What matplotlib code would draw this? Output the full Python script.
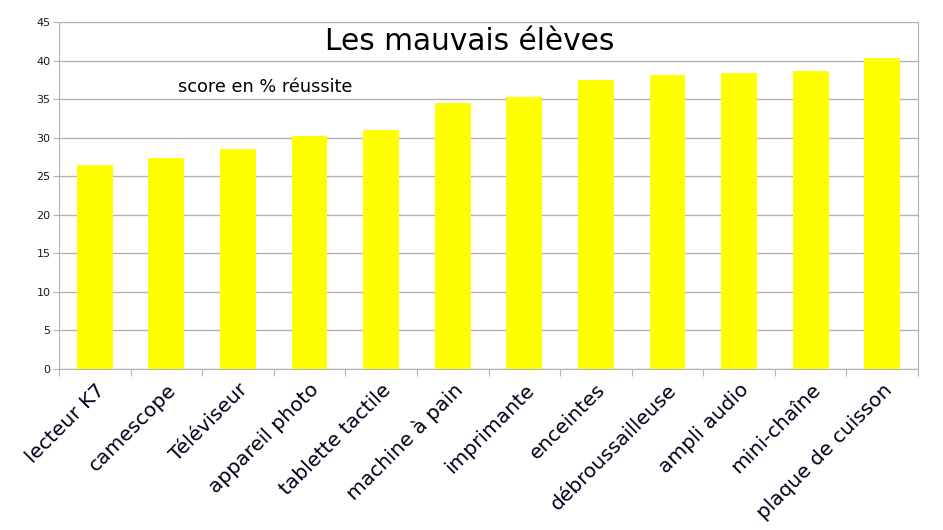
import matplotlib
matplotlib.use("Agg")
import matplotlib.pyplot as plt
import numpy as np

categories = ["lecteur K7", "camescope", "Téléviseur", "appareil photo",
              "tablette tactile", "machine à pain", "imprimante", "enceintes",
              "débroussailleuse", "ampli audio", "mini-chaîne", "plaque de cuisson"]
scores = [26.4, 27.3, 28.5, 30.2, 31.0, 34.5, 35.3, 37.5, 38.1, 38.4, 38.7, 40.3]
y_ticks = [0, 5, 10, 15, 20, 25, 30, 35, 40, 45]

grid_col = "#b3b3b3"

fig = plt.figure(figsize=(9.43, 5.30), dpi=100)
ax = fig.add_axes([59/943, 1 - 369/530, (918-59)/943, (369-22)/530])

x = np.arange(len(categories))
ax.bar(x, scores, width=0.5, color="#ffff00", zorder=2)

ax.set_xlim(-0.5, len(categories) - 0.5)
ax.set_ylim(0, 45)
ax.set_yticks(y_ticks)
ax.set_yticklabels([str(v) for v in y_ticks], fontsize=8, color="#1a1a1a")
ax.yaxis.grid(True, color=grid_col, linewidth=1, zorder=0)
ax.tick_params(axis="y", length=4, color=grid_col, pad=2)

# category ticks on boundaries, labels at centres
ax.set_xticks(np.arange(len(categories) + 1) - 0.5)
ax.set_xticklabels([])
ax.tick_params(axis="x", which="major", length=5, color=grid_col)
ax.set_xticks(x, minor=True)
ax.set_xticklabels(categories, minor=True, rotation=45, ha="right",
                   rotation_mode="anchor", fontsize=14.5, color="#00001a")
ax.tick_params(axis="x", which="minor", length=0, pad=8)

for s in ["left", "right", "bottom"]:
    ax.spines[s].set_color(grid_col)
ax.spines["top"].set_visible(False)

fig.text(470/943, 1 - 42/530, "Les mauvais élèves", fontsize=21.3,
         ha="center", va="center", color="black")
fig.text(178/943, 1 - 87/530, "score en % réussite", fontsize=12.8,
         ha="left", va="center", color="black")

fig.savefig("out.png", dpi=100)
